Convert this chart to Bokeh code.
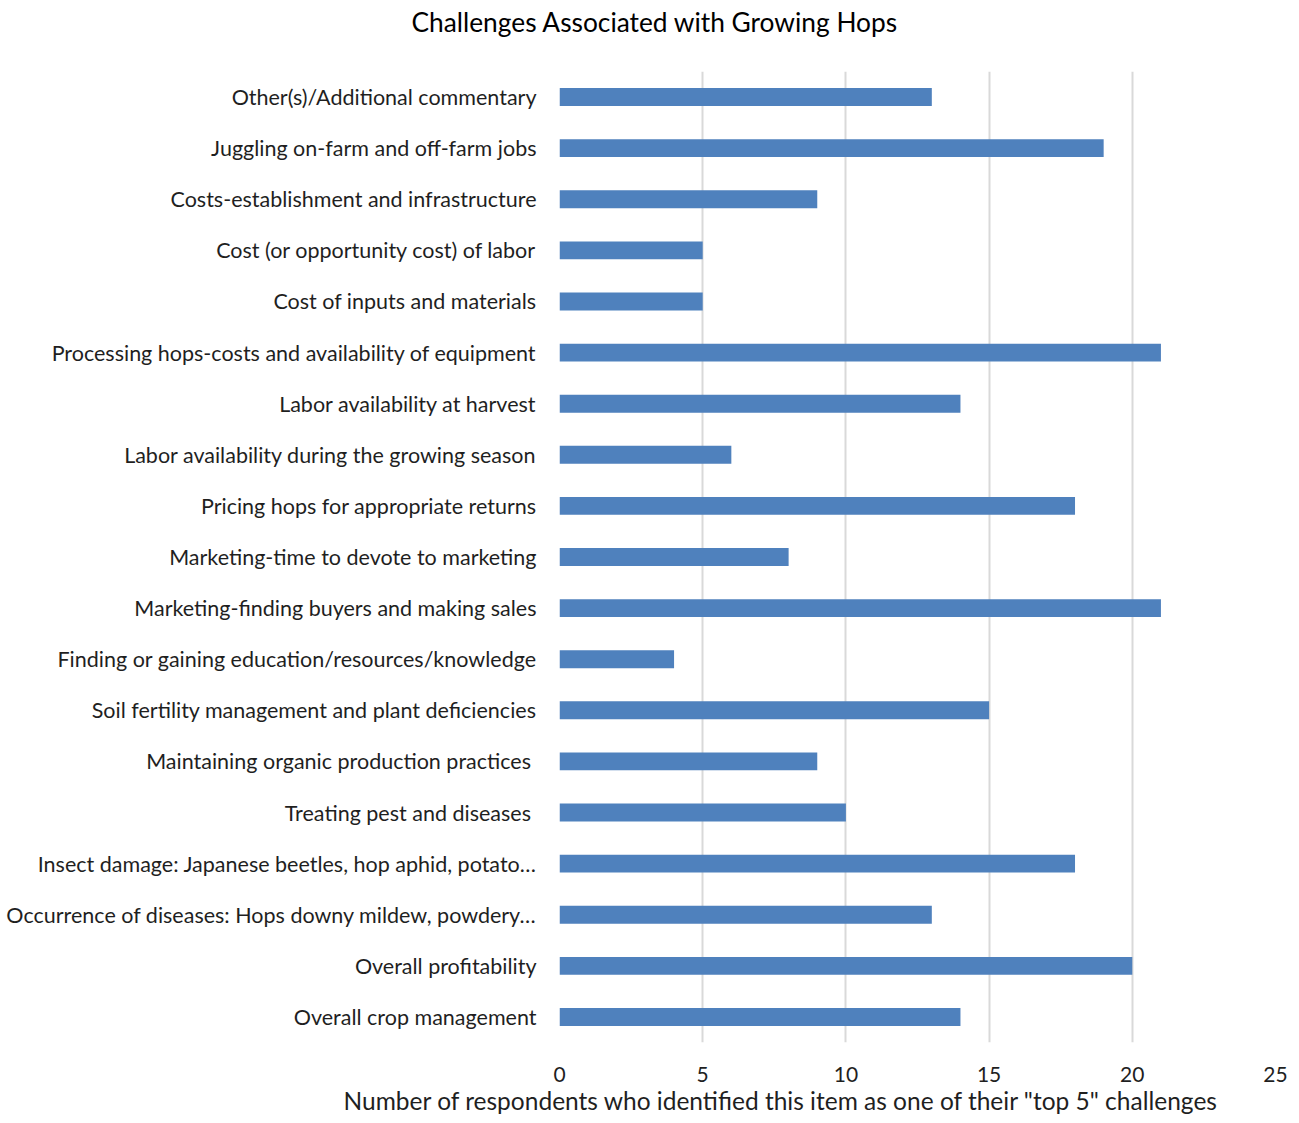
from bokeh.plotting import figure
from bokeh.models import FactorRange, Range1d, FixedTicker, ColumnDataSource, Title
from bokeh.embed import file_html
from bokeh.resources import INLINE

# Categories listed bottom-to-top (Bokeh places the first factor at the bottom)
categories = [
    "Overall crop management",
    "Overall profitability",
    "Occurrence of diseases: Hops downy mildew, powdery…",
    "Insect damage: Japanese beetles, hop aphid, potato…",
    "Treating pest and diseases ",
    "Maintaining organic production practices ",
    "Soil fertility management and plant deficiencies",
    "Finding or gaining education/resources/knowledge",
    "Marketing-finding buyers and making sales",
    "Marketing-time to devote to marketing",
    "Pricing hops for appropriate returns",
    "Labor availability during the growing season",
    "Labor availability at harvest",
    "Processing hops-costs and availability of equipment",
    "Cost of inputs and materials",
    "Cost (or opportunity cost) of labor",
    "Costs-establishment and infrastructure",
    "Juggling on-farm and off-farm jobs",
    "Other(s)/Additional commentary",
]
counts = [14, 20, 13, 18, 10, 9, 15, 4, 21, 8, 18, 6, 14, 21, 5, 5, 9, 19, 13]
x_ticks = [0, 5, 10, 15, 20, 25]

title_text = "Challenges Associated with Growing Hops"
x_label = 'Number of respondents who identified this item as one of their "top 5" challenges'

FONT = "Lato"
TEXT = "#1f1f1f"

src = ColumnDataSource(dict(cat=categories, val=counts))

p = figure(
    y_range=FactorRange(factors=categories, range_padding=0),
    x_range=Range1d(0, 25),
    frame_width=716, frame_height=971,
    min_border_left=559, min_border_right=16,
    min_border_top=0, min_border_bottom=0,
    output_backend="svg", toolbar_location=None,
)
p.outline_line_color = None
p.background_fill_color = "white"
p.border_fill_color = "white"

p.hbar(y="cat", right="val", left=0, height=0.35, source=src,
       fill_color="#4F81BD", line_color=None)

# spacer between frame and title (closest to frame), then the title
spacer = Title(text=" ", text_font_size="1px", standoff=27)
p.add_layout(spacer, "above")
main_title = Title(text=title_text, align="left", offset=-148, standoff=7,
                   text_font=FONT, text_font_size="26.3px",
                   text_font_style="normal", text_color="black")
p.add_layout(main_title, "above")

# x axis
xa = p.xaxis[0]
xa.ticker = FixedTicker(ticks=x_ticks)
xa.axis_line_color = None
xa.major_tick_line_color = None
xa.minor_tick_line_color = None
xa.major_label_standoff = 18
xa.major_label_text_font = FONT
xa.major_label_text_font_size = "21px"
xa.major_label_text_color = TEXT

# x axis title, placed below the axis, shifted left like the reference
x_title = Title(text=x_label, align="left", offset=-216, standoff=2,
                vertical_align="top",
                text_font=FONT, text_font_size="24.5px",
                text_font_style="normal", text_color=TEXT)
p.add_layout(x_title, "below")

# y axis
ya = p.yaxis[0]
ya.axis_line_color = None
ya.major_tick_line_color = None
ya.minor_tick_line_color = None
ya.major_label_standoff = 17
ya.major_label_text_font = FONT
ya.major_label_text_font_size = "21.5px"
ya.major_label_text_color = TEXT

# grids
p.ygrid.grid_line_color = None
p.xgrid.grid_line_color = "#D9D9D9"
p.xgrid.grid_line_width = 2

open("out.html", "w").write(file_html(p, INLINE))
